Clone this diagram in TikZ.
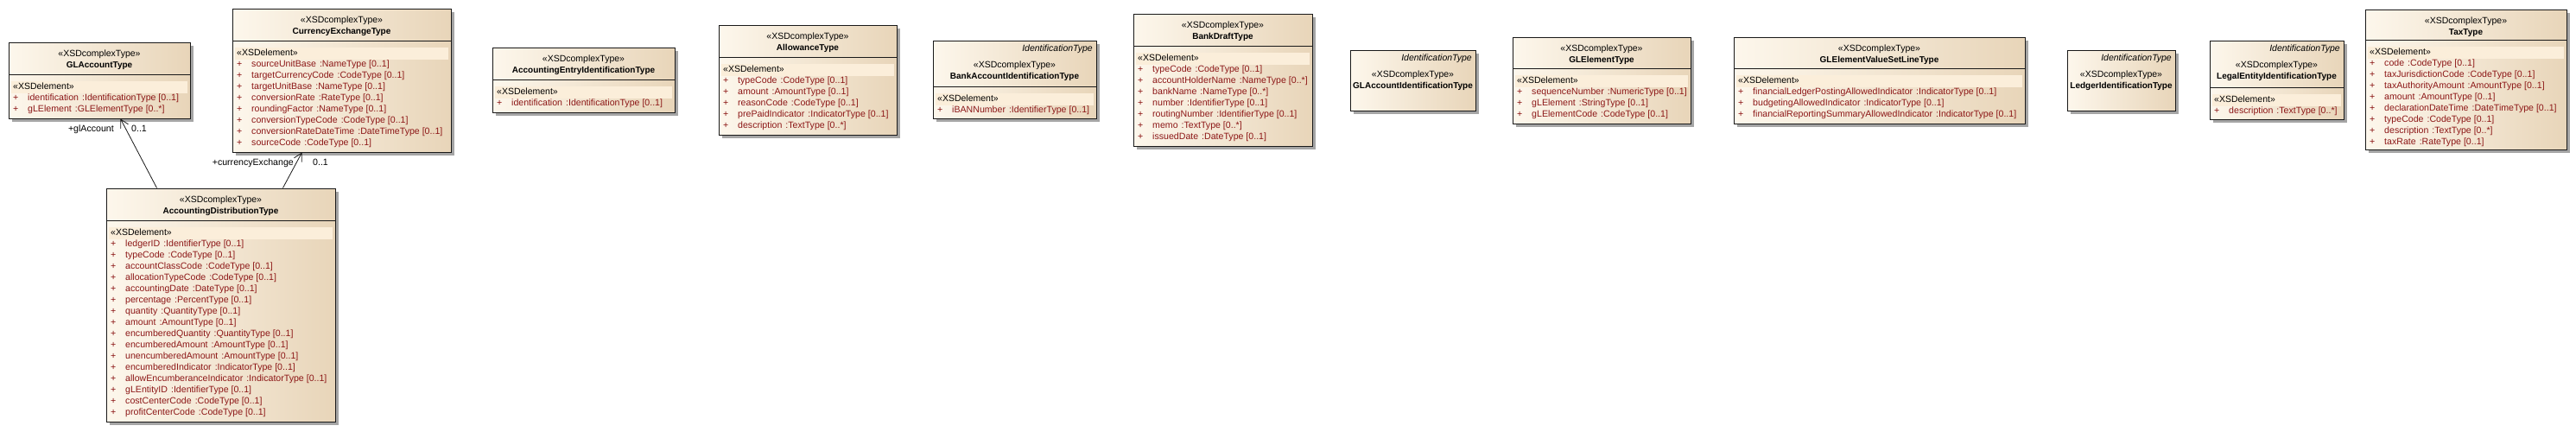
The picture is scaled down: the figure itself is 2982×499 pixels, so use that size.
\documentclass[tikz,border=0pt]{standalone}
\usepackage{fontspec}
\setmainfont{Liberation Sans}
\usetikzlibrary{arrows.meta,fit,shadows}
\definecolor{boxA}{RGB}{253,247,236}
\definecolor{boxB}{RGB}{232,213,185}
\definecolor{bandc}{RGB}{251,238,218}
\definecolor{attrc}{RGB}{140,22,22}
\definecolor{linec}{RGB}{25,25,25}
\definecolor{shadc}{RGB}{165,165,165}
\tikzset{
  classbox/.style={draw=linec, line width=1pt, left color=boxA, right color=boxB, inner sep=0pt,
    general shadow={fill=shadc, shadow xshift=4pt, shadow yshift=-4pt}},
  txt/.style={font=\fontsize{10.6}{12}\selectfont, inner sep=0pt, text height=7.5pt, text depth=2pt},
  stereo/.style={txt, font=\fontsize{10.5}{12}\selectfont},
  cname/.style={txt, font=\fontsize{10}{12}\selectfont\bfseries},
  idtype/.style={txt, font=\fontsize{10.5}{12}\selectfont\itshape},
  attrt/.style={txt, text=attrc},
  role/.style={txt},
  assoc/.style={draw=linec, line width=0.8pt, -{Straight Barb[length=9pt,width=10pt,line width=0.8pt]}}
}
% #1 name, #2 x1, #3 y1, #4 x2, #5 y2
\newcommand\classbox[5]{%
  \path (#2,#3) coordinate (#1-nw) (#4,#5) coordinate (#1-se);
  \node[classbox, fit=(#1-nw)(#1-se)] (#1) {};
}
% plain header: #1 name, #2 x1, #3 x2, #4 top, #5 class name
\newcommand\hdr[5]{%
  \node[stereo] (#1-st) at ({(#2+#3)/2},#4+13.5) {«XSDcomplexType»};
  \node[cname] (#1-nm) at ({(#2+#3)/2},#4+26.5) {#5};
}
% header with IdentificationType
\newcommand\idhdr[5]{%
  \node[idtype, anchor=east] (#1-id) at (#3-4,#4+9.5) {IdentificationType};
  \node[stereo] (#1-st) at ({(#2+#3)/2},#4+28.5) {«XSDcomplexType»};
  \node[cname] (#1-nm) at ({(#2+#3)/2},#4+41.5) {#5};
}
% compartment: #1 name, #2 x1, #3 x2, #4 sep
\newcommand\comp[4]{%
  \draw[draw=linec, line width=1pt] (#2,#4) -- (#3,#4);
  \fill[bandc] (#2+3,#4+7.5) rectangle (#3-3,#4+21.5);
  \node[stereo, anchor=west] (#1-xe) at (#2+5,#4+14.5) {«XSDelement»};
}
% attribute: #1 name, #2 index, #3 x1, #4 sep, #5 attr name, #6 type
\newcommand\attr[6]{%
  \node[attrt, anchor=west] (#1-p#2) at (#3+5,#4+27.5+13*#2-13) {+};
  \node[attrt, anchor=west] (#1-a#2) at (#3+22,#4+27.5+13*#2-13) {#5\hspace{4pt}:#6};
}
\begin{document}
\begin{tikzpicture}[x=1pt,y=-1pt]
\useasboundingbox (0,0) rectangle (2982,499);

% GLAccountType
\classbox{glacc}{10}{49}{220}{137}
\hdr{glacc}{10}{220}{49}{GLAccountType}
\comp{glacc}{10}{220}{86}
\attr{glacc}{1}{10}{86}{identification}{IdentificationType [0..1]}
\attr{glacc}{2}{10}{86}{gLElement}{GLElementType [0..*]}

% CurrencyExchangeType
\classbox{curx}{269}{10}{522}{176}
\hdr{curx}{269}{522}{10}{CurrencyExchangeType}
\comp{curx}{269}{522}{47}
\attr{curx}{1}{269}{47}{sourceUnitBase}{NameType [0..1]}
\attr{curx}{2}{269}{47}{targetCurrencyCode}{CodeType [0..1]}
\attr{curx}{3}{269}{47}{targetUnitBase}{NameType [0..1]}
\attr{curx}{4}{269}{47}{conversionRate}{RateType [0..1]}
\attr{curx}{5}{269}{47}{roundingFactor}{NameType [0..1]}
\attr{curx}{6}{269}{47}{conversionTypeCode}{CodeType [0..1]}
\attr{curx}{7}{269}{47}{conversionRateDateTime}{DateTimeType [0..1]}
\attr{curx}{8}{269}{47}{sourceCode}{CodeType [0..1]}

% AccountingDistributionType
\classbox{accd}{123}{218}{388}{488}
\hdr{accd}{123}{388}{218}{AccountingDistributionType}
\comp{accd}{123}{388}{255}
\attr{accd}{1}{123}{255}{ledgerID}{IdentifierType [0..1]}
\attr{accd}{2}{123}{255}{typeCode}{CodeType [0..1]}
\attr{accd}{3}{123}{255}{accountClassCode}{CodeType [0..1]}
\attr{accd}{4}{123}{255}{allocationTypeCode}{CodeType [0..1]}
\attr{accd}{5}{123}{255}{accountingDate}{DateType [0..1]}
\attr{accd}{6}{123}{255}{percentage}{PercentType [0..1]}
\attr{accd}{7}{123}{255}{quantity}{QuantityType [0..1]}
\attr{accd}{8}{123}{255}{amount}{AmountType [0..1]}
\attr{accd}{9}{123}{255}{encumberedQuantity}{QuantityType [0..1]}
\attr{accd}{10}{123}{255}{encumberedAmount}{AmountType [0..1]}
\attr{accd}{11}{123}{255}{unencumberedAmount}{AmountType [0..1]}
\attr{accd}{12}{123}{255}{encumberedIndicator}{IndicatorType [0..1]}
\attr{accd}{13}{123}{255}{allowEncumberanceIndicator}{IndicatorType [0..1]}
\attr{accd}{14}{123}{255}{gLEntityID}{IdentifierType [0..1]}
\attr{accd}{15}{123}{255}{costCenterCode}{CodeType [0..1]}
\attr{accd}{16}{123}{255}{profitCenterCode}{CodeType [0..1]}

% AccountingEntryIdentificationType
\classbox{aeid}{570}{55}{781}{130}
\hdr{aeid}{570}{781}{55}{AccountingEntryIdentificationType}
\comp{aeid}{570}{781}{92}
\attr{aeid}{1}{570}{92}{identification}{IdentificationType [0..1]}

% AllowanceType
\classbox{allw}{832}{29}{1038}{156}
\hdr{allw}{832}{1038}{29}{AllowanceType}
\comp{allw}{832}{1038}{66}
\attr{allw}{1}{832}{66}{typeCode}{CodeType [0..1]}
\attr{allw}{2}{832}{66}{amount}{AmountType [0..1]}
\attr{allw}{3}{832}{66}{reasonCode}{CodeType [0..1]}
\attr{allw}{4}{832}{66}{prePaidIndicator}{IndicatorType [0..1]}
\attr{allw}{5}{832}{66}{description}{TextType [0..*]}

% BankAccountIdentificationType
\classbox{baid}{1080}{47}{1269}{137}
\idhdr{baid}{1080}{1269}{47}{BankAccountIdentificationType}
\comp{baid}{1080}{1269}{100}
\attr{baid}{1}{1080}{100}{iBANNumber}{IdentifierType [0..1]}

% BankDraftType
\classbox{bdraft}{1312}{16}{1519}{169}
\hdr{bdraft}{1312}{1519}{16}{BankDraftType}
\comp{bdraft}{1312}{1519}{53}
\attr{bdraft}{1}{1312}{53}{typeCode}{CodeType [0..1]}
\attr{bdraft}{2}{1312}{53}{accountHolderName}{NameType [0..*]}
\attr{bdraft}{3}{1312}{53}{bankName}{NameType [0..*]}
\attr{bdraft}{4}{1312}{53}{number}{IdentifierType [0..1]}
\attr{bdraft}{5}{1312}{53}{routingNumber}{IdentifierType [0..1]}
\attr{bdraft}{6}{1312}{53}{memo}{TextType [0..*]}
\attr{bdraft}{7}{1312}{53}{issuedDate}{DateType [0..1]}

% GLAccountIdentificationType
\classbox{glaid}{1563}{58}{1708}{128}
\idhdr{glaid}{1563}{1708}{58}{GLAccountIdentificationType}

% GLElementType
\classbox{glel}{1751}{43}{1957}{143}
\hdr{glel}{1751}{1957}{43}{GLElementType}
\comp{glel}{1751}{1957}{79}
\attr{glel}{1}{1751}{79}{sequenceNumber}{NumericType [0..1]}
\attr{glel}{2}{1751}{79}{gLElement}{StringType [0..1]}
\attr{glel}{3}{1751}{79}{gLElementCode}{CodeType [0..1]}

% GLElementValueSetLineType
\classbox{glevs}{2007}{43}{2344}{143}
\hdr{glevs}{2007}{2344}{43}{GLElementValueSetLineType}
\comp{glevs}{2007}{2344}{79}
\attr{glevs}{1}{2007}{79}{financialLedgerPostingAllowedIndicator}{IndicatorType [0..1]}
\attr{glevs}{2}{2007}{79}{budgetingAllowedIndicator}{IndicatorType [0..1]}
\attr{glevs}{3}{2007}{79}{financialReportingSummaryAllowedIndicator}{IndicatorType [0..1]}

% LedgerIdentificationType
\classbox{ledid}{2393}{58}{2518}{128}
\idhdr{ledid}{2393}{2518}{58}{LedgerIdentificationType}

% LegalEntityIdentificationType
\classbox{leid}{2558}{47}{2713}{138}
\idhdr{leid}{2558}{2713}{47}{LegalEntityIdentificationType}
\comp{leid}{2558}{2713}{101}
\attr{leid}{1}{2558}{101}{description}{TextType [0..*]}

% TaxType
\classbox{tax}{2738}{11}{2971}{173}
\hdr{tax}{2738}{2971}{11}{TaxType}
\comp{tax}{2738}{2971}{46}
\attr{tax}{1}{2738}{46}{code}{CodeType [0..1]}
\attr{tax}{2}{2738}{46}{taxJurisdictionCode}{CodeType [0..1]}
\attr{tax}{3}{2738}{46}{taxAuthorityAmount}{AmountType [0..1]}
\attr{tax}{4}{2738}{46}{amount}{AmountType [0..1]}
\attr{tax}{5}{2738}{46}{declarationDateTime}{DateTimeType [0..1]}
\attr{tax}{6}{2738}{46}{typeCode}{CodeType [0..1]}
\attr{tax}{7}{2738}{46}{description}{TextType [0..*]}
\attr{tax}{8}{2738}{46}{taxRate}{RateType [0..1]}

% associations
\draw[assoc] ([xshift=59pt]accd.north west) -- ([xshift=130pt]glacc.south west);
\draw[assoc] ([xshift=205pt]accd.north west) -- ([xshift=81pt]curx.south west);
\node[role, anchor=east] (glacc-role) at (132,150) {+glAccount};
\node[role, anchor=west] (glacc-mult) at (152,150) {0..1};
\node[role, anchor=east] (curx-role) at (340,189) {+currencyExchange};
\node[role, anchor=west] (curx-mult) at (362,189) {0..1};
\end{tikzpicture}
\end{document}
